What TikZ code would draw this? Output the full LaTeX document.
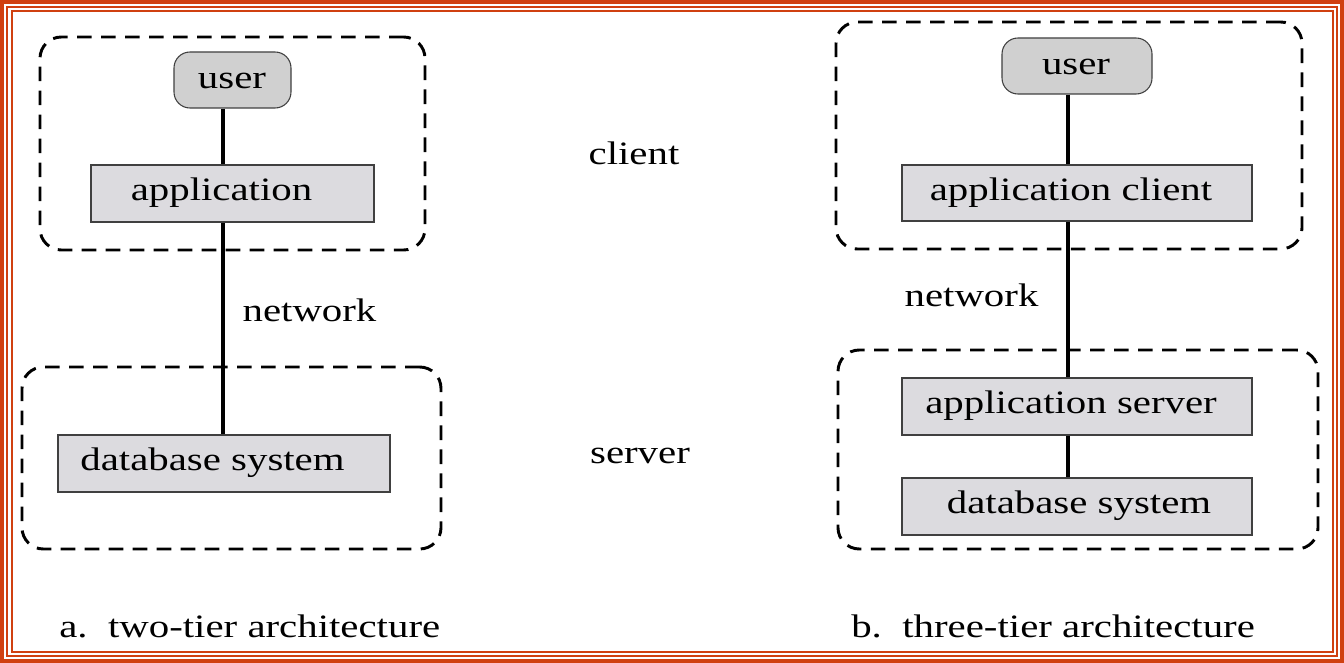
\documentclass[tikz,border=0pt]{standalone}
\usepackage{fontspec}
\setmainfont[FakeStretch=1.25]{Liberation Serif}
\usetikzlibrary{fit}
\definecolor{frame}{HTML}{D04010}
\definecolor{boxfill}{HTML}{DCDBDF}
\definecolor{userfill}{HTML}{D0D0D0}
\begin{document}
\begin{tikzpicture}[x=0.75pt,y=-0.75pt,
  every node/.style={font=\fontsize{24.5}{28}\selectfont},
  box/.style={draw=black!75, line width=0.8pt, fill=boxfill, inner sep=0pt},
  userbox/.style={draw=black!75, line width=0.8pt, fill=userfill, inner sep=0pt, rounded corners=12pt},
  tier/.style={draw=black, line width=2.2pt, dash pattern=on 11pt off 7pt, rounded corners=16pt, inner sep=0pt},
  link/.style={draw=black, line width=2.4pt},
  lbl/.style={inner sep=0pt, anchor=base}]
\useasboundingbox (0,0) rectangle (1344,663);
\fill[white] (0,0) rectangle (1344,663);
% frame
\draw[frame, line width=3pt] (2,2) rectangle (1342,661);
\draw[frame, line width=1.5pt] (7,7) rectangle (1337,656);
\draw[frame, line width=1.5pt] (11.5,11.5) rectangle (1332.5,651.5);
% left: two-tier
\node[tier, fit={(40,37) (425,250)}] (lclient) {};
\node[tier, fit={(22,367) (441,549)}] (lserver) {};
\node[userbox, fit={(174,52) (291,108)}] (luser) {};
\node[box, fit={(91,165) (374,222)}] (lapp) {};
\node[box, fit={(58,435) (390,492)}] (ldb) {};
\coordinate (lx) at (223,0);
\draw[link] (luser.south -| lx) -- (lapp.north -| lx);
\draw[link] (lapp.south -| lx) -- (ldb.north -| lx);
\node[lbl] (luserT) at (232,89) {user};
\node[lbl] (lappT) at (221.5,200) {application};
\node[lbl] (ldbT) at (212.5,470) {database system};
\node[lbl] (lnet) at (309.5,321) {network};
% middle
\node[lbl] (client) at (634,165) {client};
\node[lbl] (server) at (640,463) {server};
% right: three-tier
\node[tier, fit={(836,22) (1302,249)}] (rclient) {};
\node[tier, fit={(838,350) (1318,549)}] (rserver) {};
\node[userbox, fit={(1002,38) (1152,94)}] (ruser) {};
\node[box, fit={(902,165) (1252,221)}] (rapp) {};
\node[box, fit={(902,378) (1252,435)}] (rappsrv) {};
\node[box, fit={(902,478) (1252,535)}] (rdb) {};
\coordinate (rx) at (1068,0);
\draw[link] (ruser.south -| rx) -- (rapp.north -| rx);
\draw[link] (rapp.south -| rx) -- (rappsrv.north -| rx);
\draw[link] (rappsrv.south -| rx) -- (rdb.north -| rx);
\node[lbl] (ruserT) at (1076,75) {user};
\node[lbl] (rappT) at (1071,200) {application client};
\node[lbl] (rappsrvT) at (1071,413) {application server};
\node[lbl] (rdbT) at (1079,513) {database system};
\node[lbl] (rnet) at (971.5,306) {network};
% captions
\node[lbl, anchor=base west] (capa) at (59,637) {a.~~two-tier architecture};
\node[lbl, anchor=base west] (capb) at (851,637) {b.~~three-tier architecture};
\end{tikzpicture}
\end{document}
